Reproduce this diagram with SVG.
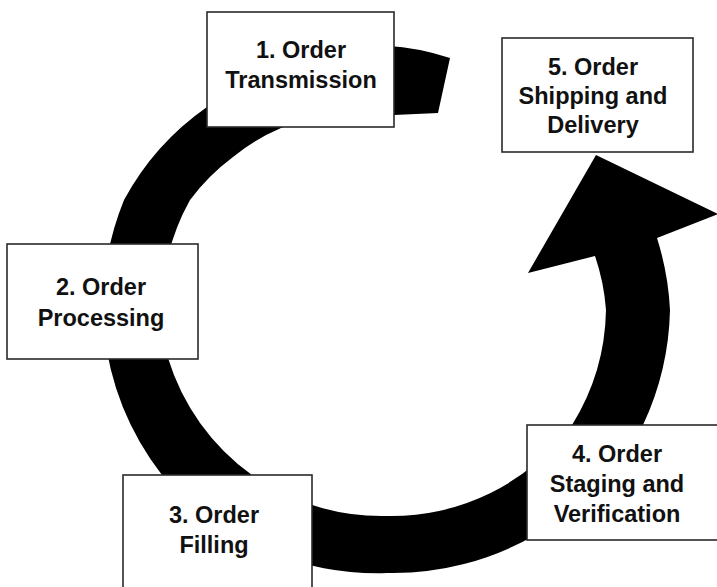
<svg xmlns="http://www.w3.org/2000/svg" width="717" height="587" viewBox="0 0 717 587">
  <style>
    .box { fill: #ffffff; stroke: #2a2a2a; stroke-width: 1.6; }
    .label { font-family: "Liberation Sans", Arial, sans-serif; font-weight: bold; font-size: 23.5px; fill: #111111; text-anchor: middle; }
    .band { fill: #000000; stroke: none; }
  </style>

  <!-- Cycle arrow: one spiral band running from the top, round the left and bottom, up into the arrowhead -->
  <g id="connectors">
    <path class="band" d="M 450,58
      A 250 250 0 0 0 207,107
      A 270 270 0 0 0 124,200
      A 285 285 0 0 0 104,330
      A 285 285 0 0 0 162,475
      A 285 285 0 0 0 387,573
      A 285 285 0 0 0 643,425
      A 285 285 0 0 0 670,310
      A 285 285 0 0 0 657,238
      L 718,214
      L 596,155
      L 528,273
      L 595,256
      A 215 215 0 0 1 606,310
      A 225 225 0 0 1 572,425
      A 225 225 0 0 1 387,516
      A 225 225 0 0 1 252,475
      A 225 225 0 0 1 168,358
      A 220 220 0 0 1 190,200
      A 210 210 0 0 1 233,157
      A 200 200 0 0 1 394,115
      L 438,113 Z"/>
  </g>

  <g id="step1">
    <rect class="box" x="207" y="12" width="187" height="115"/>
    <text class="label" x="301" y="57.5">1. Order</text>
    <text class="label" x="301" y="87.5">Transmission</text>
  </g>

  <g id="step2">
    <rect class="box" x="7" y="244" width="191" height="115"/>
    <text class="label" x="101" y="294.5">2. Order</text>
    <text class="label" x="101" y="325.5">Processing</text>
  </g>

  <g id="step3">
    <rect class="box" x="123" y="475" width="189" height="125"/>
    <text class="label" x="214" y="523">3. Order</text>
    <text class="label" x="214" y="553">Filling</text>
  </g>

  <g id="step4">
    <rect class="box" x="527" y="425" width="192" height="115"/>
    <text class="label" x="617" y="462">4. Order</text>
    <text class="label" x="617" y="492">Staging and</text>
    <text class="label" x="617" y="522">Verification</text>
  </g>

  <g id="step5">
    <rect class="box" x="502" y="38" width="191" height="114"/>
    <text class="label" x="593" y="75">5. Order</text>
    <text class="label" x="593" y="104">Shipping and</text>
    <text class="label" x="593" y="133">Delivery</text>
  </g>
</svg>
